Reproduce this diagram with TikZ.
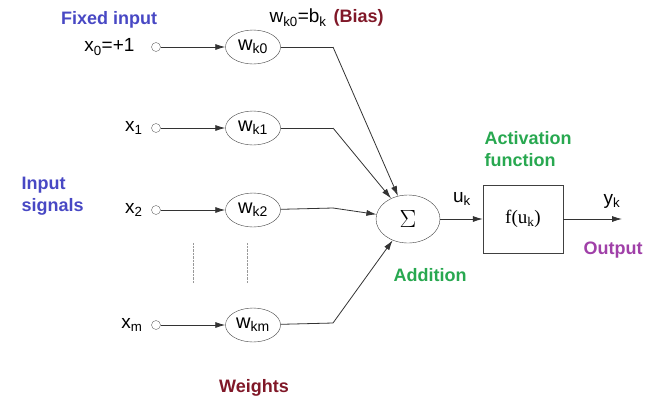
\documentclass[tikz,border=0pt]{standalone}
\usepackage{fontspec}
\setmainfont{Liberation Sans}
\newfontfamily\timesface{Liberation Serif}
\usetikzlibrary{shapes.geometric,arrows.meta}

\definecolor{inblue}{RGB}{72,72,196}
\definecolor{biasred}{RGB}{128,24,40}
\definecolor{actgreen}{RGB}{40,168,80}
\definecolor{outpurple}{RGB}{160,64,168}

\tikzset{
	weight/.style={draw=black!75,ellipse,minimum width=55pt,minimum height=34pt,inner sep=0pt,font=\fontsize{20}{22}\selectfont},
	port/.style={draw=black!60,circle,minimum size=9pt,inner sep=0pt},
	link/.style={-{Latex[length=10pt,width=6pt]},line width=0.8pt,black!80},
	wire/.style={line width=0.8pt,black!80},
	tag/.style={font=\fontsize{18}{22}\selectfont\bfseries},
	sym/.style={font=\fontsize{19}{21}\selectfont},
}

\begin{document}
\begin{tikzpicture}[x=1pt,y=-1pt]
		\useasboundingbox (0,0) rectangle (661,400);

		\node[tag,text=inblue] at (109,20) (fixed) {Fixed input};
		\node[tag,text=inblue,align=left,anchor=west] at (18,196) (insig) {Input\\signals};
		\node[tag,text=biasred] at (254,388) (wts) {Weights};
		\node[sym,anchor=west] at (266,18) (bias) {w\textsubscript{k0}=b\textsubscript{k}};
		\node[tag,text=biasred,anchor=west] at (bias.east) (biastxt) {(Bias)};

		\node[sym,anchor=east] at (138,47) (x0) {x\textsubscript{0}=+1};
		\node[sym,anchor=east] at (146,128) (x1) {x\textsubscript{1}};
		\node[sym,anchor=east] at (146,210) (x2) {x\textsubscript{2}};
		\node[sym,anchor=east] at (146,325) (xm) {x\textsubscript{m}};

		\node[port] at (156,47) (in0) {};
		\node[port] at (156,128) (in1) {};
		\node[port] at (156,210) (in2) {};
		\node[port] at (156,325) (inm) {};

		\node[weight] at (253,47) (w0) {w\textsubscript{k0}};
		\node[weight] at (253,128) (w1) {w\textsubscript{k1}};
		\node[weight] at (253,210) (w2) {w\textsubscript{k2}};
		\node[weight] at (253,325) (wm) {w\textsubscript{km}};

		\coordinate (b0) at (333,47);
		\coordinate (b1) at (333,128);
		\coordinate (b2) at (333,208);
		\coordinate (bm) at (333,323);

		\node[draw=black!75,ellipse,minimum width=64pt,minimum height=48pt,font=\timesface\fontsize{24}{26}\selectfont] at (408,219) (sum) {$\Sigma$};
		\node[draw=black!75,rectangle,minimum width=80pt,minimum height=68pt,font=\timesface\fontsize{19}{21}\selectfont] at (523,219) (act) {f(u\textsubscript{k})};
		\coordinate (out) at (622,219);

		\foreach \i in {0,1,2,m} {
			\draw[link] (in\i) -- (w\i);
			\draw[wire] (w\i) -- (b\i);
			\draw[link] (b\i) -- (sum);
		}
		\draw[link] (sum) -- (act);
		\draw[link] (act) -- (out);

		\draw[densely dotted,black!40] (193,243) -- (193,283);
		\draw[densely dotted,black!40] (247,243) -- (247,283);

		\node[sym] at (462,199) (uk) {u\textsubscript{k}};
		\node[sym] at (612,201) (yk) {y\textsubscript{k}};
		\node[tag,text=actgreen,align=left,anchor=west] at (481,149) (actname) {Activation\\function};
		\node[tag,text=actgreen] at (430,275) (addname) {Addition};
		\node[tag,text=outpurple] at (613,250) (outname) {Output};
	\end{tikzpicture}
\end{document}
